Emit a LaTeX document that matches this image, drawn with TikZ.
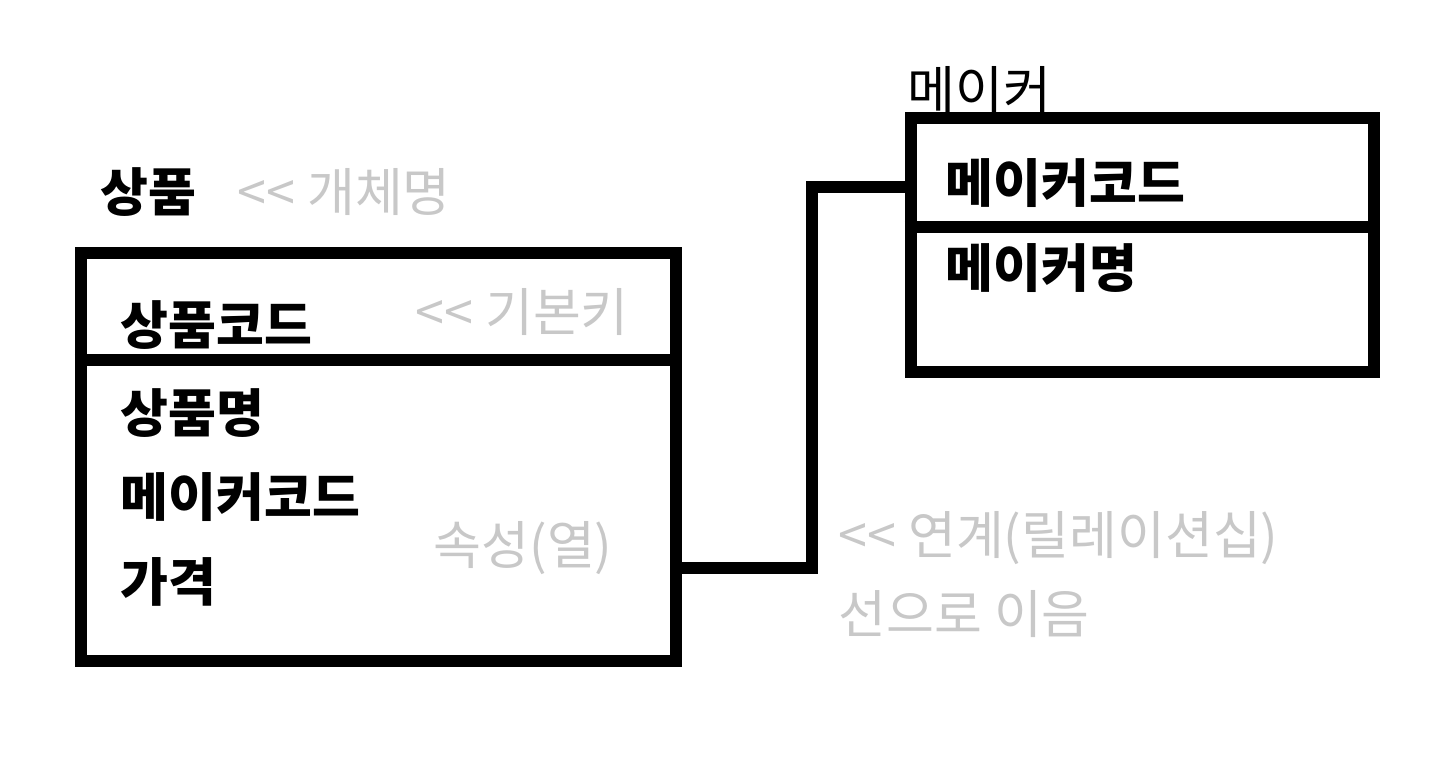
\documentclass[tikz,border=0pt]{standalone}
\usepackage{fontspec}
\setmainfont{Noto Sans CJK KR}
\definecolor{notegray}{RGB}{200,200,200}
\begin{document}
\begin{tikzpicture}[x=0.01cm, y=-0.01cm,
  tbl/.style={draw, line width=3.4pt, minimum width=#1},
  item/.style={anchor=west, inner sep=0pt, font=\fontsize{14.8}{17}\selectfont\bfseries},
  note/.style={anchor=west, inner sep=0pt, text=notegray, font=\fontsize{14.8}{17}\selectfont},
  link/.style={line width=3.4pt, line cap=round}]
\useasboundingbox (0,0) rectangle (1451,758);

% Product entity
\node[tbl=5.95cm, minimum height=4.08cm] (prod) at (378.5,457) {};
\draw[line width=3.4pt] (prod.west |- 0,360) -- (prod.east |- 0,360);
\node[item] (prodname) at (100,192) {상품};
\node[note] (entnote) at (237,192) {<{}< 개체명};
\node[item] (prodcode) at (120,325) {상품코드};
\node[note] (pknote) at (415,312) {<{}< 기본키};
\node[item] (prodtitle) at (120,413) {상품명};
\node[item] (prodmaker) at (120,497) {메이커코드};
\node[item] (prodprice) at (120,582) {가격};
\node[note] (attrnote) at (433,548) {속성(열)};

% Maker entity
\node[tbl=4.63cm, minimum height=2.54cm] (maker) at (1142.5,245) {};
\draw[line width=3.4pt] (maker.west |- 0,227) -- (maker.east |- 0,227);
\node[item, font=\fontsize{14.8}{17}\selectfont] (makername) at (907,90) {메이커};
\node[item] (makercode) at (945,183) {메이커코드};
\node[item] (makertitle) at (945,268) {메이커명};

% Relationship
\coordinate (bend1) at (812,568);
\coordinate (bend2) at (812,187);
\draw[link] (prod.east |- bend1) -- (bend1) -- (bend2) -- (maker.west |- bend2);
\node[note] (relnote) at (838,538) {<{}< 연계(릴레이션십)};
\node[note] (relnote2) at (838,614) {선으로 이음};
\end{tikzpicture}
\end{document}
